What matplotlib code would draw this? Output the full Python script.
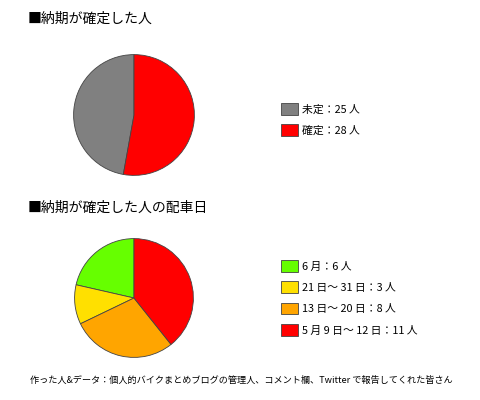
import matplotlib
matplotlib.use("Agg")
import matplotlib.pyplot as plt

plt.rcParams['font.family'] = ['Noto Sans CJK JP', 'DejaVu Sans']

# 1つ目: 納期が確定した人
kakutei_labels = ["未定：25 人", "確定：28 人"]
kakutei_values = [25, 28]
kakutei_colors = ["#808080", "#ff0000"]

# 2つ目: 配車日
haisha_labels = ["6 月：6 人", "21 日～ 31 日：3 人", "13 日～ 20 日：8 人", "5 月 9 日～ 12 日：11 人"]
haisha_values = [6, 3, 8, 11]
haisha_colors = ["#66ff00", "#ffe000", "#ffa500", "#ff0000"]

W, H = 480, 400
fig = plt.figure(figsize=(W / 100, H / 100), dpi=100)
fig.patch.set_facecolor("white")


def px_axes(cx, cy, r):
    # ピクセル座標(上から)で円の位置を指定
    return fig.add_axes([(cx - r) / W, (H - cy - r) / H, 2 * r / W, 2 * r / H])


def draw_pie(ax, values, colors):
    wedges, _ = ax.pie(values, colors=colors, startangle=90, counterclock=True,
                       wedgeprops=dict(edgecolor="#444444", linewidth=0.6))
    ax.set_xlim(-1.01, 1.01)
    ax.set_ylim(-1.01, 1.01)
    return wedges


def draw_legend(wedges, labels, x, ytop):
    fig.legend(wedges, labels, loc="upper left",
               bbox_to_anchor=(x / W, 1 - ytop / H), bbox_transform=fig.transFigure,
               frameon=False, fontsize=7.8, borderpad=0, borderaxespad=0,
               handlelength=1.6, handleheight=1.3, handletextpad=0.3,
               labelspacing=0.88)


fig.text(28 / W, 1 - 19 / H, "■納期が確定した人", fontsize=10, va="center", ha="left")
ax1 = px_axes(134, 115, 61)
w1 = draw_pie(ax1, kakutei_values, kakutei_colors)
draw_legend(w1, kakutei_labels, 281, 103)

fig.text(28 / W, 1 - 208 / H, "■納期が確定した人の配車日", fontsize=10, va="center", ha="left")
ax2 = px_axes(134, 298, 60)
w2 = draw_pie(ax2, haisha_values, haisha_colors)
draw_legend(w2, haisha_labels, 281, 260)

fig.text(30 / W, 1 - 380 / H,
         "作った人&データ：個人的バイクまとめブログの管理人、コメント欄、Twitter で報告してくれた皆さん",
         fontsize=6.6, va="center", ha="left")

fig.savefig("out.png", dpi=100)
